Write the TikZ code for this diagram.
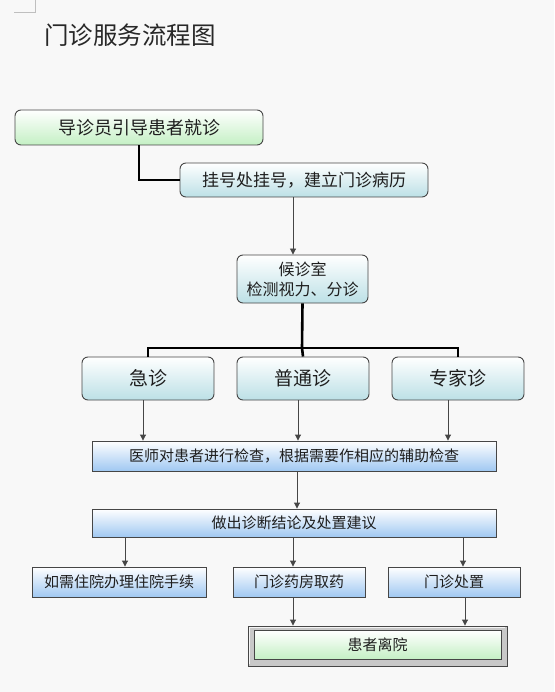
\documentclass[tikz,border=0pt]{standalone}
\usepackage{fontspec}
\setmainfont{Noto Sans CJK SC}
\usetikzlibrary{arrows.meta}
\definecolor{bgc}{RGB}{248,248,248}
\definecolor{edge}{RGB}{70,70,70}
\definecolor{greenb}{RGB}{196,240,196}
\definecolor{cyanb}{RGB}{188,224,230}
\definecolor{blueb}{RGB}{160,200,242}
\definecolor{txt}{RGB}{30,30,30}
\tikzset{
  rbox/.style={draw=edge, line width=0.9pt, rounded corners=6pt, inner sep=0pt, text=txt},
  gbox/.style={rbox, top color=white, bottom color=greenb},
  cbox/.style={rbox, top color=white, bottom color=cyanb},
  sbox/.style={draw=edge, line width=0.9pt, inner sep=0pt, text=txt, top color=white, bottom color=blueb},
  arr/.style={draw=edge, line width=0.9pt, -{Triangle[length=6pt,width=6pt]}},
  thk/.style={draw=black, line width=2.6pt},
}
\begin{document}
\begin{tikzpicture}[x=1pt,y=-1pt]
\fill[bgc] (0,0) rectangle (554,692);
\useasboundingbox (0,0) rectangle (554,692);
\draw[gray!50, line width=0.8pt] (14,12) -- (35,12) -- (35,0);
\node[text={rgb,255:red,40;green,40;blue,40}, font=\fontsize{24.5}{28}\selectfont] (title) at (130,35) {门诊服务流程图};

\node[gbox, minimum width=248pt, minimum height=35pt, font=\fontsize{18}{20}\selectfont] (b1) at (139,127.5) {导诊员引导患者就诊};
\node[cbox, minimum width=248pt, minimum height=34pt, font=\fontsize{17}{20}\selectfont] (b2) at (304,180) {挂号处挂号，建立门诊病历};
\node[cbox, minimum width=131pt, minimum height=48pt, align=center, font=\fontsize{16}{20}\selectfont] (b3) at (302.5,279) {候诊室\\检测视力、分诊};

\node[cbox, minimum width=132pt, minimum height=43pt, font=\fontsize{19}{22}\selectfont] (r1) at (148,378.5) {急诊};
\node[cbox, minimum width=132pt, minimum height=43pt, font=\fontsize{19}{22}\selectfont] (r2) at (303,378.5) {普通诊};
\node[cbox, minimum width=132pt, minimum height=43pt, font=\fontsize{19}{22}\selectfont] (r3) at (458,378.5) {专家诊};

\node[sbox, minimum width=404pt, minimum height=30pt, font=\fontsize{15}{18}\selectfont] (exam) at (294,456) {医师对患者进行检查，根据需要作相应的辅助检查};
\node[sbox, minimum width=404pt, minimum height=28pt, font=\fontsize{15}{18}\selectfont] (diag) at (294,523) {做出诊断结论及处置建议};

\node[sbox, minimum width=174pt, minimum height=30pt, font=\fontsize{15}{18}\selectfont] (o1) at (119,582) {如需住院办理住院手续};
\node[sbox, minimum width=132pt, minimum height=30pt, font=\fontsize{15}{18}\selectfont] (o2) at (299,582) {门诊药房取药};
\node[sbox, minimum width=132pt, minimum height=30pt, font=\fontsize{15}{18}\selectfont] (o3) at (454,582) {门诊处置};

\node[draw=edge, line width=0.9pt, fill={rgb,255:red,200;green,200;blue,200}, minimum width=259pt, minimum height=40pt, inner sep=0pt] (leave) at (377.5,646) {};
\draw[white!92!gray, line width=1.2pt] ([shift={(2,-2)}]leave.south west) -- ([shift={(2,2)}]leave.north west) -- ([shift={(-2,2)}]leave.north east);
\node[draw=edge, line width=0.8pt, top color=white, bottom color=greenb, minimum width=247pt, minimum height=29pt, inner sep=0pt, text=txt, font=\fontsize{15}{18}\selectfont] (leavein) at (377.5,645) {患者离院};

\coordinate (hub) at (302,348);
\draw[thk] (b1.south) |- (b2.west);
\draw[arr] ([xshift=-11pt]b2.south) -- ([xshift=-11pt]b2.south |- b3.north);
\draw[thk] (b3.south) -- (hub);
\draw[thk] (r1.north) |- (hub) -| (r3.north);
\draw[thk] (hub) -- (r2.north);

\draw[arr] ([xshift=-5pt]r1.south) -- ([xshift=-5pt]r1.south |- exam.north);
\draw[arr] ([xshift=-5pt]r2.south) -- ([xshift=-5pt]r2.south |- exam.north);
\draw[arr] ([xshift=-10pt]r3.south) -- ([xshift=-10pt]r3.south |- exam.north);

\draw[arr] ([xshift=3pt]exam.south) -- ([xshift=3pt]exam.south |- diag.north);

\draw[arr] ([xshift=6pt]o1.north |- diag.south) -- ([xshift=6pt]o1.north);
\draw[arr] ([xshift=-6pt]o2.north |- diag.south) -- ([xshift=-6pt]o2.north);
\draw[arr] ([xshift=9pt]o3.north |- diag.south) -- ([xshift=9pt]o3.north);

\draw[arr] ([xshift=-6pt]o2.south) -- ([xshift=-6pt]o2.south |- leave.north);
\draw[arr] ([xshift=11pt]o3.south) -- ([xshift=11pt]o3.south |- leave.north);
\end{tikzpicture}
\end{document}
